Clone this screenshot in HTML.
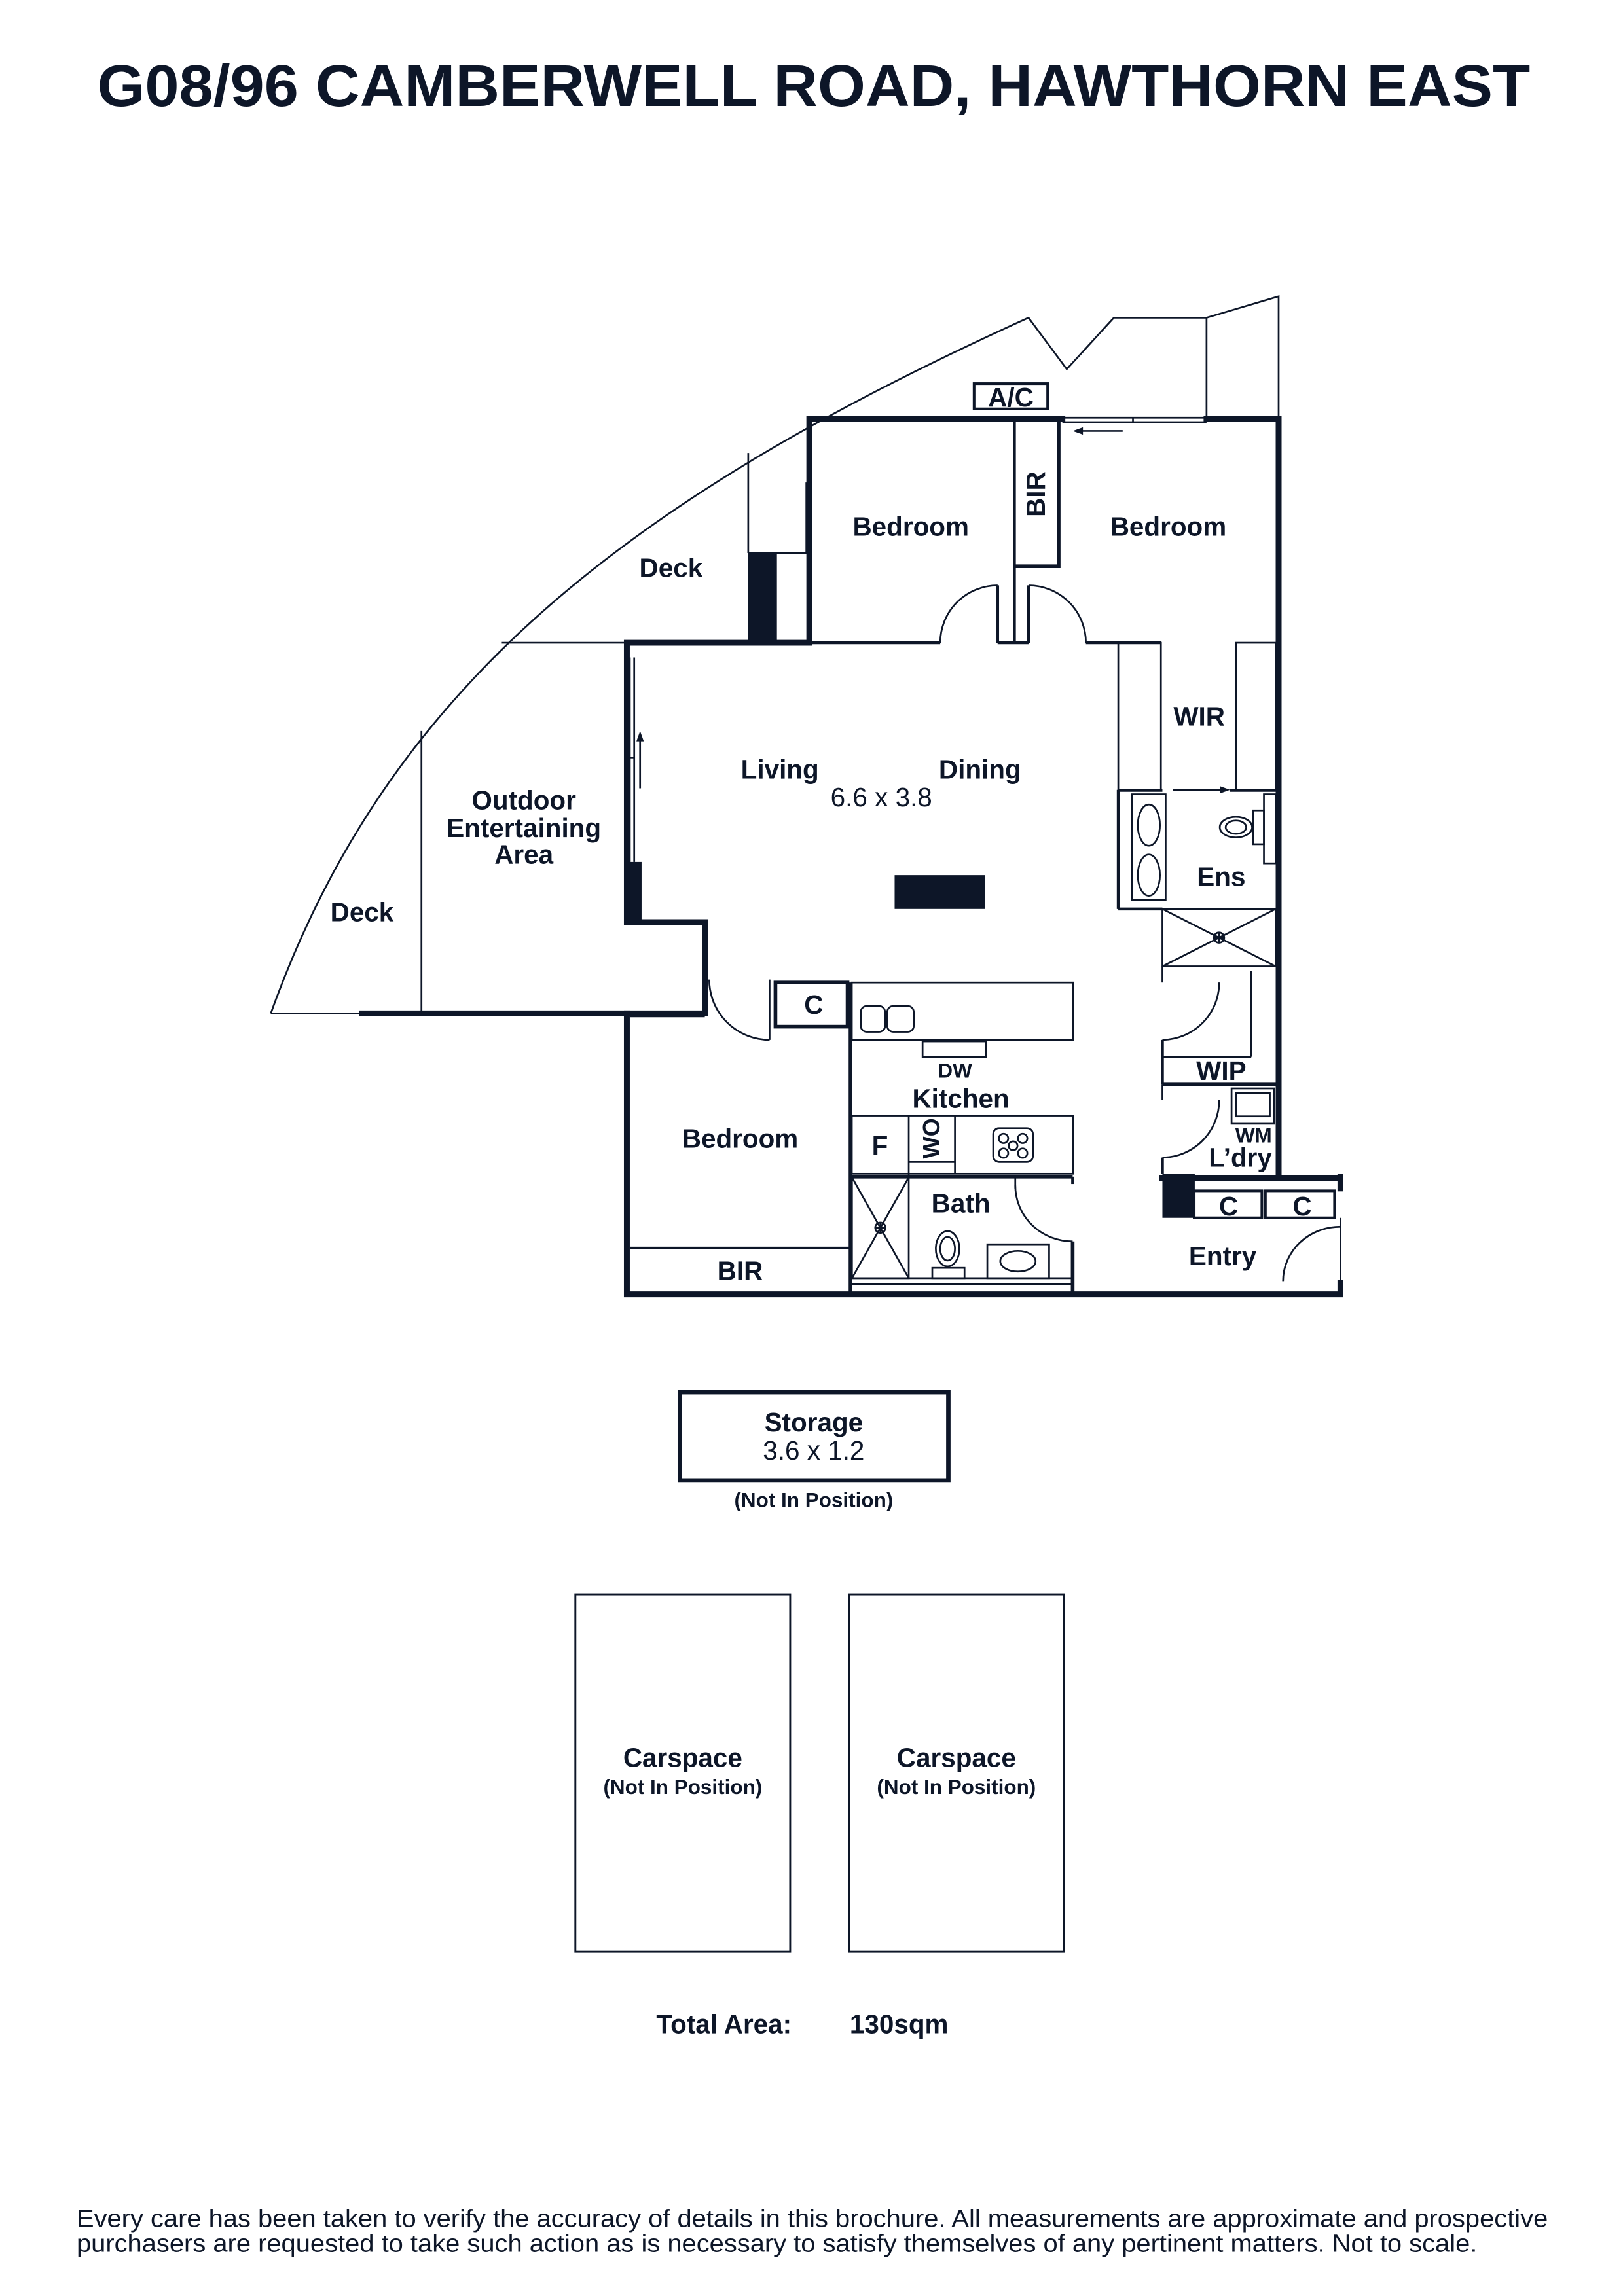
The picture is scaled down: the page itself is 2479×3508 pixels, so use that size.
<!DOCTYPE html>
<html><head><meta charset="utf-8"><style>
html,body{margin:0;padding:0;background:#fff}
svg{display:block}
text{font-family:"Liberation Sans",sans-serif;fill:#0d1628}
</style></head><body>
<svg width="2479" height="3508" viewBox="0 0 1103 1561" xmlns="http://www.w3.org/2000/svg">
<rect width="1103" height="1561" fill="#fff"/>
<text x="553" y="72" text-anchor="middle" font-size="40" font-weight="bold" textLength="974" lengthAdjust="spacingAndGlyphs">G08/96 CAMBERWELL ROAD, HAWTHORN EAST</text>

<g stroke="#0d1628" fill="none" stroke-width="1.2">
<path d="M184,689 C263,468 425,340 699,216 L725,251 L757,216 L820,216 L869,201.5 L869,284"/>
<line x1="820" y1="216" x2="820" y2="284"/>
<line x1="184" y1="689" x2="246" y2="689"/>
<line x1="508.5" y1="308" x2="508.5" y2="376"/>
<line x1="508.5" y1="376" x2="550" y2="376"/>
<line x1="341" y1="437" x2="426" y2="437"/>
<line x1="286.4" y1="497" x2="286.4" y2="689"/>
</g>

<g stroke="#0d1628" fill="none" stroke-width="4" stroke-linecap="square">
<polyline points="246,689 479,689 479,627 426,627 426,437 550,437"/>
<polyline points="550,437 550,285 722,285"/>
<polyline points="820,285 869,285 869,798"/>
<polyline points="426,689 426,880 911,880"/>
<line x1="790" y1="801" x2="911" y2="801"/>
</g>
<g fill="#0d1628">
<rect x="426" y="586" width="10" height="41"/>
<rect x="508.5" y="376" width="19.5" height="61"/>
<rect x="608" y="595" width="61.5" height="23"/>
<rect x="790" y="798" width="22" height="30"/>
<rect x="909" y="798" width="4" height="12"/>
<rect x="909" y="870" width="4" height="10"/>
</g>

<g stroke="#0d1628" fill="none" stroke-width="1.2">
<line x1="548" y1="328" x2="548" y2="376"/><line x1="551" y1="328" x2="551" y2="376"/>
<line x1="722" y1="284" x2="820" y2="284"/><line x1="722" y1="287" x2="820" y2="287"/><line x1="770" y1="284" x2="770" y2="287"/>
<line x1="428" y1="447" x2="428" y2="586"/><line x1="431" y1="447" x2="431" y2="586"/><line x1="428" y1="515" x2="431" y2="515"/>
<line x1="428" y1="688" x2="479" y2="688"/><line x1="428" y1="691" x2="479" y2="691"/>
<line x1="763" y1="293" x2="733" y2="293"/>
<line x1="435" y1="536" x2="435" y2="501"/>
<line x1="797" y1="537" x2="830" y2="537"/>
<line x1="550" y1="437" x2="639" y2="437" stroke-width="2"/>
<path d="M639,437 A39,39 0 0 1 678,398"/>
<line x1="678" y1="398" x2="678" y2="437" stroke-width="2"/>
<line x1="678" y1="437" x2="699" y2="437" stroke-width="2"/>
<line x1="689.4" y1="287" x2="689.4" y2="437" stroke-width="2"/>
<polyline points="689.4,385 719.5,385 719.5,287" stroke-width="2.5"/>
<line x1="699" y1="398" x2="699" y2="437" stroke-width="2"/>
<path d="M699,398 A39,39 0 0 1 738,437"/>
<line x1="738" y1="437" x2="789" y2="437" stroke-width="2"/>
<rect x="760" y="437" width="29" height="100"/>
<rect x="840" y="437" width="27" height="100"/>
<line x1="760" y1="537" x2="760" y2="618" stroke-width="2"/>
<line x1="760" y1="618" x2="790" y2="618" stroke-width="2"/>
<line x1="760" y1="537.3" x2="790" y2="537.3" stroke-width="2"/>
<line x1="836" y1="537.3" x2="868" y2="537.3" stroke-width="2"/>
<rect x="769.4" y="540" width="22.8" height="72"/>
<ellipse cx="780.8" cy="561" rx="7.5" ry="14"/>
<ellipse cx="780.8" cy="595" rx="7.5" ry="14"/>
<ellipse cx="840" cy="562.4" rx="11" ry="7"/>
<ellipse cx="840" cy="562.4" rx="7" ry="4.5"/>
<rect x="851.8" y="551" width="7.2" height="23"/>
<rect x="859" y="540" width="8" height="47"/>
<rect x="790" y="618" width="77" height="39"/>
<line x1="790" y1="618" x2="867" y2="657"/><line x1="867" y1="618" x2="790" y2="657"/>
<circle cx="828.5" cy="637.5" r="3.5"/><line x1="825" y1="637.5" x2="832" y2="637.5"/><line x1="828.5" y1="634" x2="828.5" y2="641"/>
<line x1="790" y1="657" x2="790" y2="668"/>
<path d="M828.6,668 A39,39 0 0 1 790,707"/>
<line x1="790" y1="707" x2="790" y2="737" stroke-width="2"/>
<line x1="850.4" y1="660" x2="850.4" y2="718.5"/>
<line x1="790" y1="718.5" x2="850.4" y2="718.5"/>
<line x1="790" y1="737" x2="868" y2="737" stroke-width="2.5"/>
<rect x="837" y="740" width="29" height="24"/>
<rect x="840" y="743" width="23" height="16"/>
<line x1="790" y1="737" x2="790" y2="748"/>
<path d="M828.6,748 A39,39 0 0 1 790,787"/>
<line x1="790" y1="787" x2="790" y2="798" stroke-width="2"/>
<rect x="811.6" y="809.6" width="46" height="18.4" stroke-width="1.8"/>
<rect x="860" y="809.6" width="47" height="18.4" stroke-width="1.8"/>
<line x1="911" y1="828" x2="911" y2="871"/>
<path d="M872,871 A39,37 0 0 1 911,834"/>
<path d="M482,666 A41,41 0 0 0 523,707"/>
<line x1="523" y1="666" x2="523" y2="707"/>
<line x1="479" y1="668" x2="479" y2="689" stroke-width="2"/>
<rect x="527" y="668" width="49" height="30" stroke-width="2.5"/>
<line x1="578" y1="668" x2="578" y2="880" stroke-width="2.5"/>
<rect x="578.9" y="668" width="150.3" height="39"/>
<rect x="585" y="684" width="16.5" height="17.5" rx="4"/>
<rect x="603" y="684" width="18" height="17.5" rx="4"/>
<rect x="627" y="708" width="43" height="10.5"/>
<rect x="578.9" y="758.5" width="150.3" height="39.5"/>
<line x1="617.6" y1="758.5" x2="617.6" y2="800"/>
<line x1="649" y1="758.5" x2="649" y2="798"/>
<line x1="617.6" y1="790" x2="649" y2="790"/>
<rect x="675" y="767" width="27" height="23" rx="4"/>
<circle cx="682" cy="774" r="3.2"/><circle cx="695" cy="774" r="3.2"/><circle cx="682" cy="784" r="3.2"/><circle cx="695" cy="784" r="3.2"/><circle cx="688.5" cy="779" r="3"/>
<line x1="578" y1="800" x2="729" y2="800" stroke-width="2.5"/>
<line x1="729" y1="800" x2="729" y2="805" stroke-width="2"/>
<line x1="690" y1="800" x2="690" y2="808"/>
<path d="M690,806 A39,38 0 0 0 729,844"/>
<line x1="729" y1="844" x2="729" y2="880" stroke-width="2.5"/>
<rect x="579" y="800.5" width="38.6" height="68.5"/>
<line x1="579" y1="800.5" x2="617.6" y2="869"/><line x1="617.6" y1="800.5" x2="579" y2="869"/>
<circle cx="598.3" cy="834.7" r="3.5"/><line x1="595" y1="834.7" x2="601.6" y2="834.7"/><line x1="598.3" y1="831.4" x2="598.3" y2="838"/>
<ellipse cx="644" cy="849" rx="8" ry="12"/><ellipse cx="644" cy="849" rx="5" ry="8"/>
<rect x="633.6" y="862" width="21.9" height="7"/>
<rect x="671" y="846" width="42" height="23"/>
<ellipse cx="691.8" cy="857.5" rx="12" ry="7"/>
<line x1="578" y1="869" x2="729" y2="869"/>
<line x1="578" y1="873" x2="729" y2="873"/>
<line x1="428" y1="848.4" x2="578" y2="848.4" stroke-width="1.5"/>
<rect x="662" y="260.8" width="50" height="17.2" stroke-width="1.8"/>
</g>
<g fill="#0d1628">
<polygon points="729,293 736,290.5 736,295.5"/>
<polygon points="435,497 432.5,504 437.5,504"/>
<polygon points="836,537 829,534.5 829,539.5"/>
</g>

<g font-size="18" font-weight="bold" text-anchor="middle" dominant-baseline="central">
<text x="687" y="270">A/C</text>
<text x="619" y="358">Bedroom</text>
<text x="794" y="358">Bedroom</text>
<text x="704" y="336" transform="rotate(-90 704 336)">BIR</text>
<text x="456" y="386">Deck</text>
<text x="815" y="487">WIR</text>
<text x="530" y="523">Living</text>
<text x="666" y="523">Dining</text>
<text x="599" y="542" font-weight="normal">6.6 x 3.8</text>
<text x="356" y="544">Outdoor</text>
<text x="356" y="563">Entertaining</text>
<text x="356" y="581">Area</text>
<text x="830" y="596">Ens</text>
<text x="246" y="620">Deck</text>
<text x="553" y="683">C</text>
<text x="649" y="728" font-size="14">DW</text>
<text x="653" y="747">Kitchen</text>
<text x="830" y="728">WIP</text>
<text x="503" y="774">Bedroom</text>
<text x="598" y="779">F</text>
<text x="633" y="774" transform="rotate(-90 633 774)" font-size="16">WO</text>
<text x="852" y="772" font-size="14">WM</text>
<text x="843" y="787">L’dry</text>
<text x="653" y="818">Bath</text>
<text x="835" y="820">C</text>
<text x="885" y="820">C</text>
<text x="831" y="854">Entry</text>
<text x="503" y="864">BIR</text>
<text x="553" y="967">Storage</text>
<text x="553" y="986" font-weight="normal">3.6 x 1.2</text>
<text x="553" y="1020" font-size="14">(Not In Position)</text>
<text x="464" y="1195">Carspace</text>
<text x="464" y="1215" font-size="14">(Not In Position)</text>
<text x="650" y="1195">Carspace</text>
<text x="650" y="1215" font-size="14">(Not In Position)</text>
<text x="492" y="1376">Total Area:</text>
<text x="611" y="1376">130sqm</text>
</g>
<rect x="462" y="946.5" width="182.5" height="60" fill="none" stroke="#0d1628" stroke-width="3"/>
<rect x="391" y="1084" width="146" height="243" fill="none" stroke="#0d1628" stroke-width="1.3"/>
<rect x="577" y="1084" width="146" height="243" fill="none" stroke="#0d1628" stroke-width="1.3"/>

<text x="52" y="1514" font-size="17" textLength="1000" lengthAdjust="spacingAndGlyphs">Every care has been taken to verify the accuracy of details in this brochure. All measurements are approximate and prospective</text>
<text x="52" y="1531" font-size="17" textLength="952" lengthAdjust="spacingAndGlyphs">purchasers are requested to take such action as is necessary to satisfy themselves of any pertinent matters. Not to scale.</text>
</svg>
</body></html>
